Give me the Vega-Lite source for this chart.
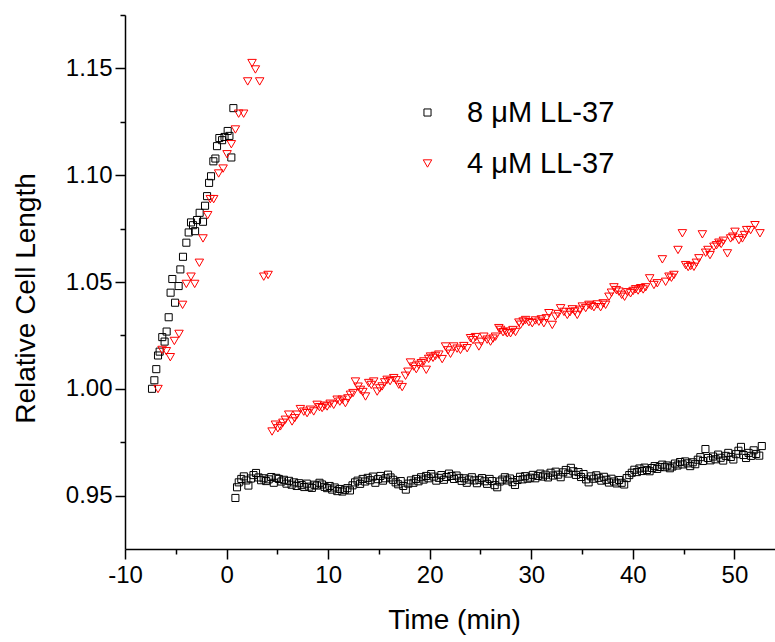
{
  "$schema": "https://vega.github.io/schema/vega-lite/v6.json",
  "width": 650,
  "height": 534,
  "autosize": {"type": "none"},
  "padding": {"left": 125, "top": 15, "right": 0, "bottom": 93},
  "background": "white",
  "config": {
    "view": {"stroke": null},
    "font": "Liberation Sans",
    "axis": {
      "grid": false,
      "domainColor": "black",
      "domainWidth": 1.5,
      "tickColor": "black",
      "tickWidth": 1.5,
      "labelColor": "black",
      "titleColor": "black",
      "labelFont": "Liberation Sans",
      "titleFont": "Liberation Sans",
      "labelFontSize": 24,
      "titleFontSize": 28,
      "titleFontWeight": "normal"
    },
    "legend": {
      "orient": "none",
      "legendX": 288,
      "legendY": 83,
      "padding": 0,
      "labelFont": "Liberation Sans",
      "labelFontSize": 29,
      "labelColor": "black",
      "labelOffset": 25,
      "rowPadding": 21,
      "symbolStrokeWidth": 1
    }
  },
  "data": {
    "values": [
      {"c": "8", "t": -7.34, "v": 1.0000},
      {"c": "8", "t": -7.11, "v": 1.0040},
      {"c": "8", "t": -6.92, "v": 1.0092},
      {"c": "8", "t": -6.75, "v": 1.0156},
      {"c": "8", "t": -6.59, "v": 1.0174},
      {"c": "8", "t": -6.33, "v": 1.0242},
      {"c": "8", "t": -6.10, "v": 1.0221},
      {"c": "8", "t": -5.90, "v": 1.0268},
      {"c": "8", "t": -5.70, "v": 1.0335},
      {"c": "8", "t": -5.51, "v": 1.0450},
      {"c": "8", "t": -5.34, "v": 1.0514},
      {"c": "8", "t": -5.07, "v": 1.0403},
      {"c": "8", "t": -4.72, "v": 1.0481},
      {"c": "8", "t": -4.55, "v": 1.0559},
      {"c": "8", "t": -4.29, "v": 1.0618},
      {"c": "8", "t": -3.96, "v": 1.0684},
      {"c": "8", "t": -3.73, "v": 1.0732},
      {"c": "8", "t": -3.50, "v": 1.0779},
      {"c": "8", "t": -3.30, "v": 1.0766},
      {"c": "8", "t": -3.10, "v": 1.0738},
      {"c": "8", "t": -2.91, "v": 1.0790},
      {"c": "8", "t": -2.65, "v": 1.0824},
      {"c": "8", "t": -2.32, "v": 1.0782},
      {"c": "8", "t": -2.12, "v": 1.0857},
      {"c": "8", "t": -1.92, "v": 1.0902},
      {"c": "8", "t": -1.72, "v": 1.0964},
      {"c": "8", "t": -1.53, "v": 1.0995},
      {"c": "8", "t": -1.30, "v": 1.1065},
      {"c": "8", "t": -1.10, "v": 1.1078},
      {"c": "8", "t": -0.94, "v": 1.1136},
      {"c": "8", "t": -0.71, "v": 1.1174},
      {"c": "8", "t": -0.44, "v": 1.1164},
      {"c": "8", "t": -0.20, "v": 1.1179},
      {"c": "8", "t": 0.11, "v": 1.1207},
      {"c": "8", "t": 0.28, "v": 1.1184},
      {"c": "8", "t": 0.47, "v": 1.1083},
      {"c": "8", "t": 0.67, "v": 1.1314},
      {"c": "8", "t": 0.87, "v": 0.9489},
      {"c": "8", "t": 1.03, "v": 0.9539},
      {"c": "8", "t": 1.20, "v": 0.9562},
      {"c": "8", "t": 1.45, "v": 0.9578},
      {"c": "8", "t": 1.70, "v": 0.9590},
      {"c": "8", "t": 1.95, "v": 0.9571},
      {"c": "8", "t": 2.15, "v": 0.9547},
      {"c": "8", "t": 2.40, "v": 0.9580},
      {"c": "8", "t": 2.65, "v": 0.9596},
      {"c": "8", "t": 2.90, "v": 0.9606},
      {"c": "8", "t": 3.15, "v": 0.9585},
      {"c": "8", "t": 3.40, "v": 0.9572},
      {"c": "8", "t": 3.65, "v": 0.9581},
      {"c": "8", "t": 3.90, "v": 0.9568},
      {"c": "8", "t": 4.15, "v": 0.9576},
      {"c": "8", "t": 4.40, "v": 0.9587},
      {"c": "8", "t": 4.65, "v": 0.9560},
      {"c": "8", "t": 4.90, "v": 0.9583},
      {"c": "8", "t": 5.15, "v": 0.9578},
      {"c": "8", "t": 5.40, "v": 0.9566},
      {"c": "8", "t": 5.65, "v": 0.9574},
      {"c": "8", "t": 5.90, "v": 0.9556},
      {"c": "8", "t": 6.15, "v": 0.9569},
      {"c": "8", "t": 6.40, "v": 0.9551},
      {"c": "8", "t": 6.65, "v": 0.9562},
      {"c": "8", "t": 6.90, "v": 0.9545},
      {"c": "8", "t": 7.15, "v": 0.9558},
      {"c": "8", "t": 7.40, "v": 0.9549},
      {"c": "8", "t": 7.65, "v": 0.9540},
      {"c": "8", "t": 7.90, "v": 0.9556},
      {"c": "8", "t": 8.15, "v": 0.9542},
      {"c": "8", "t": 8.40, "v": 0.9536},
      {"c": "8", "t": 8.65, "v": 0.9551},
      {"c": "8", "t": 8.90, "v": 0.9547},
      {"c": "8", "t": 9.15, "v": 0.9560},
      {"c": "8", "t": 9.40, "v": 0.9552},
      {"c": "8", "t": 9.65, "v": 0.9541},
      {"c": "8", "t": 9.90, "v": 0.9535},
      {"c": "8", "t": 10.15, "v": 0.9545},
      {"c": "8", "t": 10.40, "v": 0.9528},
      {"c": "8", "t": 10.65, "v": 0.9538},
      {"c": "8", "t": 10.90, "v": 0.9521},
      {"c": "8", "t": 11.15, "v": 0.9531},
      {"c": "8", "t": 11.40, "v": 0.9519},
      {"c": "8", "t": 11.65, "v": 0.9527},
      {"c": "8", "t": 11.90, "v": 0.9535},
      {"c": "8", "t": 12.15, "v": 0.9524},
      {"c": "8", "t": 12.40, "v": 0.9548},
      {"c": "8", "t": 12.65, "v": 0.9562},
      {"c": "8", "t": 12.90, "v": 0.9570},
      {"c": "8", "t": 13.15, "v": 0.9555},
      {"c": "8", "t": 13.40, "v": 0.9578},
      {"c": "8", "t": 13.65, "v": 0.9566},
      {"c": "8", "t": 13.90, "v": 0.9583},
      {"c": "8", "t": 14.15, "v": 0.9572},
      {"c": "8", "t": 14.40, "v": 0.9589},
      {"c": "8", "t": 14.65, "v": 0.9560},
      {"c": "8", "t": 14.90, "v": 0.9577},
      {"c": "8", "t": 15.15, "v": 0.9592},
      {"c": "8", "t": 15.40, "v": 0.9570},
      {"c": "8", "t": 15.65, "v": 0.9581},
      {"c": "8", "t": 15.90, "v": 0.9598},
      {"c": "8", "t": 16.15, "v": 0.9585},
      {"c": "8", "t": 16.40, "v": 0.9574},
      {"c": "8", "t": 16.65, "v": 0.9562},
      {"c": "8", "t": 16.90, "v": 0.9553},
      {"c": "8", "t": 17.15, "v": 0.9568},
      {"c": "8", "t": 17.40, "v": 0.9545},
      {"c": "8", "t": 17.65, "v": 0.9528},
      {"c": "8", "t": 17.90, "v": 0.9556},
      {"c": "8", "t": 18.15, "v": 0.9571},
      {"c": "8", "t": 18.40, "v": 0.9560},
      {"c": "8", "t": 18.65, "v": 0.9578},
      {"c": "8", "t": 18.90, "v": 0.9567},
      {"c": "8", "t": 19.15, "v": 0.9586},
      {"c": "8", "t": 19.40, "v": 0.9575},
      {"c": "8", "t": 19.65, "v": 0.9592},
      {"c": "8", "t": 19.90, "v": 0.9581},
      {"c": "8", "t": 20.15, "v": 0.9601},
      {"c": "8", "t": 20.40, "v": 0.9589},
      {"c": "8", "t": 20.65, "v": 0.9570},
      {"c": "8", "t": 20.90, "v": 0.9583},
      {"c": "8", "t": 21.15, "v": 0.9596},
      {"c": "8", "t": 21.40, "v": 0.9574},
      {"c": "8", "t": 21.65, "v": 0.9587},
      {"c": "8", "t": 21.90, "v": 0.9603},
      {"c": "8", "t": 22.15, "v": 0.9592},
      {"c": "8", "t": 22.40, "v": 0.9578},
      {"c": "8", "t": 22.65, "v": 0.9594},
      {"c": "8", "t": 22.90, "v": 0.9583},
      {"c": "8", "t": 23.15, "v": 0.9569},
      {"c": "8", "t": 23.40, "v": 0.9581},
      {"c": "8", "t": 23.65, "v": 0.9560},
      {"c": "8", "t": 23.90, "v": 0.9575},
      {"c": "8", "t": 24.15, "v": 0.9586},
      {"c": "8", "t": 24.40, "v": 0.9571},
      {"c": "8", "t": 24.65, "v": 0.9558},
      {"c": "8", "t": 24.90, "v": 0.9574},
      {"c": "8", "t": 25.15, "v": 0.9582},
      {"c": "8", "t": 25.40, "v": 0.9567},
      {"c": "8", "t": 25.65, "v": 0.9555},
      {"c": "8", "t": 25.90, "v": 0.9578},
      {"c": "8", "t": 26.15, "v": 0.9568},
      {"c": "8", "t": 26.40, "v": 0.9549},
      {"c": "8", "t": 26.65, "v": 0.9539},
      {"c": "8", "t": 26.90, "v": 0.9566},
      {"c": "8", "t": 27.15, "v": 0.9575},
      {"c": "8", "t": 27.40, "v": 0.9586},
      {"c": "8", "t": 27.65, "v": 0.9571},
      {"c": "8", "t": 27.90, "v": 0.9580},
      {"c": "8", "t": 28.15, "v": 0.9563},
      {"c": "8", "t": 28.40, "v": 0.9550},
      {"c": "8", "t": 28.65, "v": 0.9573},
      {"c": "8", "t": 28.90, "v": 0.9588},
      {"c": "8", "t": 29.15, "v": 0.9576},
      {"c": "8", "t": 29.40, "v": 0.9591},
      {"c": "8", "t": 29.65, "v": 0.9579},
      {"c": "8", "t": 29.90, "v": 0.9584},
      {"c": "8", "t": 30.15, "v": 0.9597},
      {"c": "8", "t": 30.40, "v": 0.9581},
      {"c": "8", "t": 30.65, "v": 0.9592},
      {"c": "8", "t": 30.90, "v": 0.9603},
      {"c": "8", "t": 31.15, "v": 0.9589},
      {"c": "8", "t": 31.40, "v": 0.9598},
      {"c": "8", "t": 31.65, "v": 0.9585},
      {"c": "8", "t": 31.90, "v": 0.9607},
      {"c": "8", "t": 32.15, "v": 0.9594},
      {"c": "8", "t": 32.40, "v": 0.9612},
      {"c": "8", "t": 32.65, "v": 0.9598},
      {"c": "8", "t": 32.90, "v": 0.9586},
      {"c": "8", "t": 33.15, "v": 0.9609},
      {"c": "8", "t": 33.40, "v": 0.9620},
      {"c": "8", "t": 33.65, "v": 0.9603},
      {"c": "8", "t": 33.90, "v": 0.9630},
      {"c": "8", "t": 34.15, "v": 0.9614},
      {"c": "8", "t": 34.40, "v": 0.9597},
      {"c": "8", "t": 34.65, "v": 0.9610},
      {"c": "8", "t": 34.90, "v": 0.9587},
      {"c": "8", "t": 35.15, "v": 0.9601},
      {"c": "8", "t": 35.40, "v": 0.9576},
      {"c": "8", "t": 35.65, "v": 0.9562},
      {"c": "8", "t": 35.90, "v": 0.9590},
      {"c": "8", "t": 36.15, "v": 0.9579},
      {"c": "8", "t": 36.40, "v": 0.9595},
      {"c": "8", "t": 36.65, "v": 0.9583},
      {"c": "8", "t": 36.90, "v": 0.9570},
      {"c": "8", "t": 37.15, "v": 0.9588},
      {"c": "8", "t": 37.40, "v": 0.9574},
      {"c": "8", "t": 37.65, "v": 0.9561},
      {"c": "8", "t": 37.90, "v": 0.9579},
      {"c": "8", "t": 38.15, "v": 0.9566},
      {"c": "8", "t": 38.40, "v": 0.9557},
      {"c": "8", "t": 38.65, "v": 0.9573},
      {"c": "8", "t": 38.90, "v": 0.9560},
      {"c": "8", "t": 39.15, "v": 0.9552},
      {"c": "8", "t": 39.40, "v": 0.9582},
      {"c": "8", "t": 39.65, "v": 0.9596},
      {"c": "8", "t": 39.90, "v": 0.9607},
      {"c": "8", "t": 40.15, "v": 0.9621},
      {"c": "8", "t": 40.40, "v": 0.9610},
      {"c": "8", "t": 40.65, "v": 0.9627},
      {"c": "8", "t": 40.90, "v": 0.9615},
      {"c": "8", "t": 41.15, "v": 0.9631},
      {"c": "8", "t": 41.40, "v": 0.9620},
      {"c": "8", "t": 41.65, "v": 0.9614},
      {"c": "8", "t": 41.90, "v": 0.9629},
      {"c": "8", "t": 42.15, "v": 0.9638},
      {"c": "8", "t": 42.40, "v": 0.9625},
      {"c": "8", "t": 42.65, "v": 0.9634},
      {"c": "8", "t": 42.90, "v": 0.9645},
      {"c": "8", "t": 43.15, "v": 0.9633},
      {"c": "8", "t": 43.40, "v": 0.9641},
      {"c": "8", "t": 43.65, "v": 0.9628},
      {"c": "8", "t": 43.90, "v": 0.9636},
      {"c": "8", "t": 44.15, "v": 0.9650},
      {"c": "8", "t": 44.40, "v": 0.9641},
      {"c": "8", "t": 44.65, "v": 0.9657},
      {"c": "8", "t": 44.90, "v": 0.9646},
      {"c": "8", "t": 45.15, "v": 0.9660},
      {"c": "8", "t": 45.40, "v": 0.9651},
      {"c": "8", "t": 45.65, "v": 0.9638},
      {"c": "8", "t": 45.90, "v": 0.9656},
      {"c": "8", "t": 46.15, "v": 0.9647},
      {"c": "8", "t": 46.40, "v": 0.9668},
      {"c": "8", "t": 46.65, "v": 0.9680},
      {"c": "8", "t": 46.90, "v": 0.9662},
      {"c": "8", "t": 47.15, "v": 0.9718},
      {"c": "8", "t": 47.40, "v": 0.9676},
      {"c": "8", "t": 47.65, "v": 0.9665},
      {"c": "8", "t": 47.90, "v": 0.9683},
      {"c": "8", "t": 48.15, "v": 0.9670},
      {"c": "8", "t": 48.40, "v": 0.9692},
      {"c": "8", "t": 48.65, "v": 0.9677},
      {"c": "8", "t": 48.90, "v": 0.9664},
      {"c": "8", "t": 49.15, "v": 0.9686},
      {"c": "8", "t": 49.40, "v": 0.9700},
      {"c": "8", "t": 49.65, "v": 0.9681},
      {"c": "8", "t": 49.90, "v": 0.9669},
      {"c": "8", "t": 50.15, "v": 0.9694},
      {"c": "8", "t": 50.40, "v": 0.9710},
      {"c": "8", "t": 50.65, "v": 0.9728},
      {"c": "8", "t": 50.90, "v": 0.9690},
      {"c": "8", "t": 51.15, "v": 0.9676},
      {"c": "8", "t": 51.40, "v": 0.9700},
      {"c": "8", "t": 51.65, "v": 0.9686},
      {"c": "8", "t": 51.90, "v": 0.9712},
      {"c": "8", "t": 52.15, "v": 0.9695},
      {"c": "8", "t": 52.45, "v": 0.9687},
      {"c": "8", "t": 52.70, "v": 0.9732},
      {"c": "4", "t": -6.75, "v": 0.9999},
      {"c": "4", "t": -6.35, "v": 1.0182},
      {"c": "4", "t": -5.93, "v": 1.0176},
      {"c": "4", "t": -5.54, "v": 1.0148},
      {"c": "4", "t": -5.14, "v": 1.0224},
      {"c": "4", "t": -4.68, "v": 1.0257},
      {"c": "4", "t": -4.33, "v": 1.0393},
      {"c": "4", "t": -3.96, "v": 1.0491},
      {"c": "4", "t": -3.50, "v": 1.0525},
      {"c": "4", "t": -3.14, "v": 1.0491},
      {"c": "4", "t": -2.68, "v": 1.0590},
      {"c": "4", "t": -2.32, "v": 1.0704},
      {"c": "4", "t": -1.86, "v": 1.0813},
      {"c": "4", "t": -1.60, "v": 1.0888},
      {"c": "4", "t": -1.27, "v": 1.0888},
      {"c": "4", "t": -0.78, "v": 1.1008},
      {"c": "4", "t": -0.34, "v": 1.1031},
      {"c": "4", "t": 0.05, "v": 1.1098},
      {"c": "4", "t": 0.47, "v": 1.1145},
      {"c": "4", "t": 0.87, "v": 1.1214},
      {"c": "4", "t": 1.19, "v": 1.1288},
      {"c": "4", "t": 1.68, "v": 1.1288},
      {"c": "4", "t": 2.08, "v": 1.1439},
      {"c": "4", "t": 2.51, "v": 1.1525},
      {"c": "4", "t": 2.84, "v": 1.1495},
      {"c": "4", "t": 3.26, "v": 1.1439},
      {"c": "4", "t": 3.66, "v": 1.0525},
      {"c": "4", "t": 4.09, "v": 1.0533},
      {"c": "4", "t": 4.48, "v": 0.9800},
      {"c": "4", "t": 4.81, "v": 0.9832},
      {"c": "4", "t": 5.05, "v": 0.9815},
      {"c": "4", "t": 5.30, "v": 0.9824},
      {"c": "4", "t": 5.55, "v": 0.9841},
      {"c": "4", "t": 5.79, "v": 0.9855},
      {"c": "4", "t": 6.12, "v": 0.9879},
      {"c": "4", "t": 6.45, "v": 0.9847},
      {"c": "4", "t": 6.70, "v": 0.9862},
      {"c": "4", "t": 6.95, "v": 0.9879},
      {"c": "4", "t": 7.27, "v": 0.9905},
      {"c": "4", "t": 7.60, "v": 0.9893},
      {"c": "4", "t": 7.93, "v": 0.9886},
      {"c": "4", "t": 8.25, "v": 0.9902},
      {"c": "4", "t": 8.58, "v": 0.9894},
      {"c": "4", "t": 8.92, "v": 0.9925},
      {"c": "4", "t": 9.15, "v": 0.9914},
      {"c": "4", "t": 9.41, "v": 0.9910},
      {"c": "4", "t": 9.65, "v": 0.9921},
      {"c": "4", "t": 9.90, "v": 0.9917},
      {"c": "4", "t": 10.20, "v": 0.9930},
      {"c": "4", "t": 10.55, "v": 0.9925},
      {"c": "4", "t": 10.89, "v": 0.9949},
      {"c": "4", "t": 11.15, "v": 0.9940},
      {"c": "4", "t": 11.38, "v": 0.9949},
      {"c": "4", "t": 11.70, "v": 0.9933},
      {"c": "4", "t": 11.95, "v": 0.9955},
      {"c": "4", "t": 12.20, "v": 0.9972},
      {"c": "4", "t": 12.45, "v": 0.9980},
      {"c": "4", "t": 12.69, "v": 1.0034},
      {"c": "4", "t": 12.95, "v": 1.0010},
      {"c": "4", "t": 13.18, "v": 0.9995},
      {"c": "4", "t": 13.42, "v": 0.9985},
      {"c": "4", "t": 13.68, "v": 0.9964},
      {"c": "4", "t": 14.00, "v": 1.0027},
      {"c": "4", "t": 14.25, "v": 1.0018},
      {"c": "4", "t": 14.49, "v": 1.0034},
      {"c": "4", "t": 14.83, "v": 0.9987},
      {"c": "4", "t": 15.08, "v": 1.0002},
      {"c": "4", "t": 15.32, "v": 1.0011},
      {"c": "4", "t": 15.57, "v": 1.0030},
      {"c": "4", "t": 15.81, "v": 1.0042},
      {"c": "4", "t": 16.10, "v": 1.0036},
      {"c": "4", "t": 16.46, "v": 1.0050},
      {"c": "4", "t": 16.70, "v": 1.0040},
      {"c": "4", "t": 16.96, "v": 1.0019},
      {"c": "4", "t": 17.29, "v": 1.0008},
      {"c": "4", "t": 17.62, "v": 1.0061},
      {"c": "4", "t": 17.86, "v": 1.0080},
      {"c": "4", "t": 18.11, "v": 1.0123},
      {"c": "4", "t": 18.43, "v": 1.0104},
      {"c": "4", "t": 18.68, "v": 1.0092},
      {"c": "4", "t": 18.93, "v": 1.0112},
      {"c": "4", "t": 19.18, "v": 1.0120},
      {"c": "4", "t": 19.42, "v": 1.0128},
      {"c": "4", "t": 19.66, "v": 1.0089},
      {"c": "4", "t": 19.90, "v": 1.0140},
      {"c": "4", "t": 20.08, "v": 1.0151},
      {"c": "4", "t": 20.33, "v": 1.0145},
      {"c": "4", "t": 20.57, "v": 1.0154},
      {"c": "4", "t": 20.90, "v": 1.0160},
      {"c": "4", "t": 21.23, "v": 1.0139},
      {"c": "4", "t": 21.56, "v": 1.0198},
      {"c": "4", "t": 21.80, "v": 1.0180},
      {"c": "4", "t": 22.05, "v": 1.0164},
      {"c": "4", "t": 22.37, "v": 1.0198},
      {"c": "4", "t": 22.70, "v": 1.0188},
      {"c": "4", "t": 23.03, "v": 1.0182},
      {"c": "4", "t": 23.36, "v": 1.0200},
      {"c": "4", "t": 23.69, "v": 1.0190},
      {"c": "4", "t": 24.02, "v": 1.0237},
      {"c": "4", "t": 24.26, "v": 1.0228},
      {"c": "4", "t": 24.51, "v": 1.0242},
      {"c": "4", "t": 24.84, "v": 1.0198},
      {"c": "4", "t": 25.08, "v": 1.0220},
      {"c": "4", "t": 25.33, "v": 1.0244},
      {"c": "4", "t": 25.66, "v": 1.0230},
      {"c": "4", "t": 25.99, "v": 1.0221},
      {"c": "4", "t": 26.24, "v": 1.0235},
      {"c": "4", "t": 26.48, "v": 1.0244},
      {"c": "4", "t": 26.81, "v": 1.0284},
      {"c": "4", "t": 26.98, "v": 1.0276},
      {"c": "4", "t": 27.22, "v": 1.0265},
      {"c": "4", "t": 27.47, "v": 1.0268},
      {"c": "4", "t": 27.64, "v": 1.0260},
      {"c": "4", "t": 27.96, "v": 1.0260},
      {"c": "4", "t": 28.20, "v": 1.0275},
      {"c": "4", "t": 28.45, "v": 1.0266},
      {"c": "4", "t": 28.78, "v": 1.0310},
      {"c": "4", "t": 28.95, "v": 1.0300},
      {"c": "4", "t": 29.20, "v": 1.0315},
      {"c": "4", "t": 29.44, "v": 1.0322},
      {"c": "4", "t": 29.77, "v": 1.0312},
      {"c": "4", "t": 30.10, "v": 1.0307},
      {"c": "4", "t": 30.42, "v": 1.0320},
      {"c": "4", "t": 30.75, "v": 1.0314},
      {"c": "4", "t": 31.00, "v": 1.0325},
      {"c": "4", "t": 31.24, "v": 1.0307},
      {"c": "4", "t": 31.49, "v": 1.0330},
      {"c": "4", "t": 31.74, "v": 1.0354},
      {"c": "4", "t": 32.07, "v": 1.0299},
      {"c": "4", "t": 32.39, "v": 1.0338},
      {"c": "4", "t": 32.64, "v": 1.0350},
      {"c": "4", "t": 32.89, "v": 1.0377},
      {"c": "4", "t": 33.22, "v": 1.0360},
      {"c": "4", "t": 33.55, "v": 1.0346},
      {"c": "4", "t": 33.80, "v": 1.0358},
      {"c": "4", "t": 34.04, "v": 1.0372},
      {"c": "4", "t": 34.29, "v": 1.0362},
      {"c": "4", "t": 34.53, "v": 1.0346},
      {"c": "4", "t": 34.78, "v": 1.0370},
      {"c": "4", "t": 35.03, "v": 1.0385},
      {"c": "4", "t": 35.36, "v": 1.0378},
      {"c": "4", "t": 35.68, "v": 1.0393},
      {"c": "4", "t": 35.92, "v": 1.0388},
      {"c": "4", "t": 36.17, "v": 1.0382},
      {"c": "4", "t": 36.50, "v": 1.0395},
      {"c": "4", "t": 36.83, "v": 1.0382},
      {"c": "4", "t": 37.08, "v": 1.0400},
      {"c": "4", "t": 37.32, "v": 1.0393},
      {"c": "4", "t": 37.65, "v": 1.0431},
      {"c": "4", "t": 37.90, "v": 1.0450},
      {"c": "4", "t": 38.14, "v": 1.0475},
      {"c": "4", "t": 38.38, "v": 1.0462},
      {"c": "4", "t": 38.63, "v": 1.0455},
      {"c": "4", "t": 38.91, "v": 1.0440},
      {"c": "4", "t": 39.19, "v": 1.0431},
      {"c": "4", "t": 39.48, "v": 1.0452},
      {"c": "4", "t": 39.78, "v": 1.0447},
      {"c": "4", "t": 40.03, "v": 1.0458},
      {"c": "4", "t": 40.28, "v": 1.0466},
      {"c": "4", "t": 40.52, "v": 1.0460},
      {"c": "4", "t": 40.77, "v": 1.0471},
      {"c": "4", "t": 41.02, "v": 1.0465},
      {"c": "4", "t": 41.26, "v": 1.0475},
      {"c": "4", "t": 41.66, "v": 1.0517},
      {"c": "4", "t": 42.08, "v": 1.0486},
      {"c": "4", "t": 42.41, "v": 1.0494},
      {"c": "4", "t": 42.91, "v": 1.0606},
      {"c": "4", "t": 43.23, "v": 1.0501},
      {"c": "4", "t": 43.56, "v": 1.0525},
      {"c": "4", "t": 43.80, "v": 1.0520},
      {"c": "4", "t": 44.05, "v": 1.0533},
      {"c": "4", "t": 44.45, "v": 1.0650},
      {"c": "4", "t": 44.88, "v": 1.0728},
      {"c": "4", "t": 45.20, "v": 1.0579},
      {"c": "4", "t": 45.45, "v": 1.0570},
      {"c": "4", "t": 45.70, "v": 1.0575},
      {"c": "4", "t": 46.02, "v": 1.0571},
      {"c": "4", "t": 46.26, "v": 1.0590},
      {"c": "4", "t": 46.51, "v": 1.0611},
      {"c": "4", "t": 46.85, "v": 1.0723},
      {"c": "4", "t": 47.17, "v": 1.0637},
      {"c": "4", "t": 47.40, "v": 1.0650},
      {"c": "4", "t": 47.60, "v": 1.0626},
      {"c": "4", "t": 47.99, "v": 1.0665},
      {"c": "4", "t": 48.24, "v": 1.0672},
      {"c": "4", "t": 48.48, "v": 1.0684},
      {"c": "4", "t": 48.70, "v": 1.0678},
      {"c": "4", "t": 48.92, "v": 1.0693},
      {"c": "4", "t": 49.31, "v": 1.0634},
      {"c": "4", "t": 49.63, "v": 1.0704},
      {"c": "4", "t": 49.85, "v": 1.0712},
      {"c": "4", "t": 50.06, "v": 1.0735},
      {"c": "4", "t": 50.45, "v": 1.0696},
      {"c": "4", "t": 50.79, "v": 1.0704},
      {"c": "4", "t": 51.00, "v": 1.0720},
      {"c": "4", "t": 51.21, "v": 1.0743},
      {"c": "4", "t": 51.60, "v": 1.0743},
      {"c": "4", "t": 52.03, "v": 1.0766},
      {"c": "4", "t": 52.52, "v": 1.0728}
    ]
  },
  "mark": {"type": "point", "filled": false, "strokeWidth": 1, "clip": true, "opacity": 1},
  "encoding": {
    "x": {
      "field": "t",
      "type": "quantitative",
      "scale": {"domain": [-10, 54], "nice": false, "zero": false},
      "axis": {
        "title": "Time (min)",
        "titlePadding": 19,
        "titleX": 329,
        "values": [-10, -5, 0, 5, 10, 15, 20, 25, 30, 35, 40, 45, 50],
        "labelExpr": "datum.value % 10 == 0 ? (datum.value < 0 ? '-' + abs(datum.value) : '' + datum.value) : ''",
        "tickSize": {"condition": {"test": "datum.value % 10 == 0", "value": 10}, "value": 5},
        "labelPadding": 4,
        "labelFlush": false,
        "labelOverlap": false
      }
    },
    "y": {
      "field": "v",
      "type": "quantitative",
      "scale": {"domain": [0.925, 1.175], "nice": false, "zero": false},
      "axis": {
        "title": "Relative Cell Length",
        "titlePadding": 25,
        "titleY": 283,
        "values": [0.95, 0.975, 1.0, 1.025, 1.05, 1.075, 1.1, 1.125, 1.15, 1.175],
        "labelExpr": "abs(datum.value * 20 - round(datum.value * 20)) < 0.001 ? format(datum.value, '.2f') : ''",
        "tickSize": {"condition": {"test": "abs(datum.value * 20 - round(datum.value * 20)) < 0.001", "value": 10}, "value": 5},
        "labelPadding": 3,
        "labelFlush": false,
        "labelOverlap": false
      }
    },
    "color": {
      "field": "c",
      "type": "nominal",
      "scale": {"domain": ["8", "4"], "range": ["black", "red"]},
      "legend": {"title": null, "labelExpr": "datum.label + ' μM LL-37'"}
    },
    "shape": {
      "field": "c",
      "type": "nominal",
      "scale": {"domain": ["8", "4"], "range": ["square", "triangle-down"]},
      "legend": {"title": null, "labelExpr": "datum.label + ' μM LL-37'"}
    },
    "size": {
      "field": "c",
      "type": "nominal",
      "scale": {"domain": ["8", "4"], "range": [50, 72]},
      "legend": {"title": null, "labelExpr": "datum.label + ' μM LL-37'"}
    }
  }
}
